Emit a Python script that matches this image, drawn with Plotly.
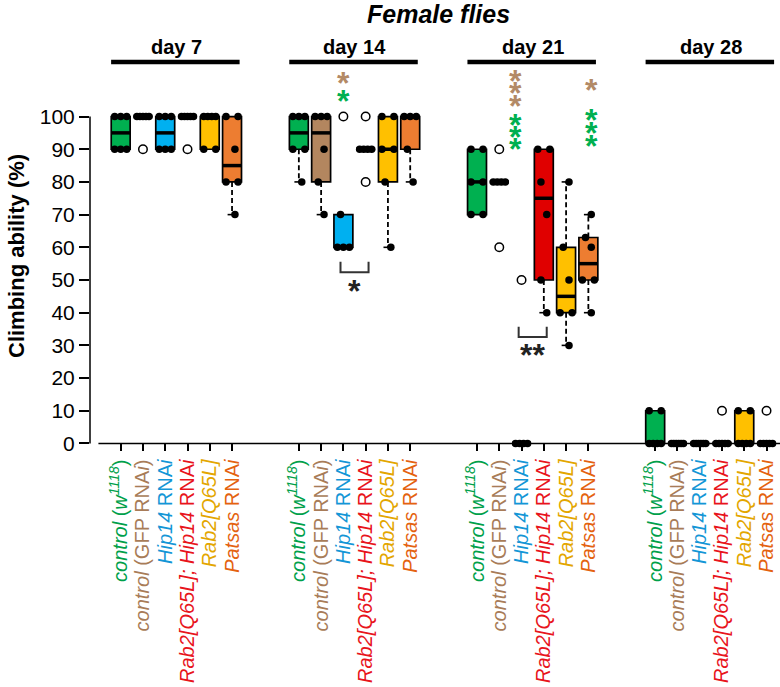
import numpy as np
import plotly.graph_objects as go

# ---------------- data ----------------
days = ["day 7", "day 14", "day 21", "day 28"]
genotype_labels = [
    "<i>control</i> (<i>w</i><sup><i>1118</i></sup>)",
    "<i>control</i> (GFP RNA<i>i</i>)",
    "<i>Hip14</i> RNA<i>i</i>",
    "<i>Rab2[Q65L]; Hip14</i> RNA<i>i</i>",
    "<i>Rab2[Q65L]</i>",
    "<i>Patsas</i> RNA<i>i</i>",
]
box_colors = ["#00B050", "#B3865F", "#00B0F0", "#E00000", "#FFC000", "#ED7D31"]
label_colors = ["#00A04A", "#A87C58", "#1496D6", "#E8141C", "#E3A600", "#E4620F"]

# climbing ability (%) per tube, one list per genotype (order as above)
day7 = [
    [90, 90, 90, 100, 100, 100],
    [90, 100, 100, 100, 100, 100],
    [90, 90, 90, 100, 100, 100],
    [90, 100, 100, 100, 100, 100],
    [90, 90, 100, 100, 100, 100],
    [70, 80, 80, 90, 100, 100],
]
day14 = [
    [80, 90, 90, 100, 100, 100],
    [70, 80, 90, 100, 100, 100],
    [60, 60, 60, 70, 100],
    [80, 90, 90, 90, 90, 100],
    [60, 80, 90, 90, 100, 100],
    [80, 90, 100, 100, 100],
]
day21 = [
    [70, 70, 80, 80, 90, 90],
    [60, 80, 80, 80, 80, 90],
    [0, 0, 0, 0, 50],
    [40, 50, 70, 80, 90, 90],
    [30, 40, 40, 50, 60, 80],
    [40, 50, 50, 60, 63, 70],
]
day28 = [
    [0, 0, 0, 0, 10, 10],
    [0, 0, 0, 0, 0, 0],
    [0, 0, 0, 0, 0, 0],
    [0, 0, 0, 0, 0, 10],
    [0, 0, 0, 0, 10, 10],
    [0, 0, 0, 0, 0, 10],
]
all_days = [day7, day14, day21, day28]

# significance marks vs controls: (x position, y level, colour)
STAR_BROWN = "#B38A66"
STAR_GREEN = "#00B050"
stars = [
    (11.0, 112.7, STAR_BROWN), (11.0, 107.3, STAR_GREEN),
    (18.75, 113.4, STAR_BROWN), (18.75, 109.6, STAR_BROWN), (18.75, 105.8, STAR_BROWN),
    (18.75, 99.9, STAR_GREEN), (18.75, 96.2, STAR_GREEN), (18.75, 92.5, STAR_GREEN),
    (22.15, 110.6, STAR_BROWN),
    (22.15, 101.5, STAR_GREEN), (22.15, 97.4, STAR_GREEN), (22.15, 93.3, STAR_GREEN),
]
# brackets between two boxes: (pos a, pos b, top y, bottom y, text, text y)
brackets = [
    (11, 12, 55.6, 52.4, "*", 49.0),
    (19, 20, 35.7, 32.6, "**", 29.6),
]

FONT = "Liberation Sans, Arial, sans-serif"
YMIN, YMAX = -2, 102
XMIN, XMAX = -0.378, 30.605
BOXW = 0.85
STAR_SIZE = 32


def stats(v):
    s = np.sort(np.asarray(v, dtype=float))
    n = len(s)
    half = (n + 1) // 2
    q1 = np.median(s[:half])
    q3 = np.median(s[n - half:])
    med = np.median(s)
    iqr = q3 - q1
    inl = s[(s >= q1 - 1.5 * iqr) & (s <= q3 + 1.5 * iqr)]
    return q1, med, q3, inl.min(), inl.max()


def jitter(vals):
    vals = list(vals)
    out = np.zeros(len(vals))
    uniq = sorted(set(vals))
    for i, u in enumerate(uniq):
        idx = [j for j, v in enumerate(vals) if v == u]
        if len(idx) == 1:
            out[idx[0]] = 0.13 if i % 2 == 0 else -0.13
        else:
            out[idx] = np.linspace(-0.27, 0.27, len(idx))
    return out


fig = go.Figure()

wx, wy, sx, sy, mx, my, dx, dy, ox, oy = ([] for _ in range(10))
tickvals, ticktext = [], []

for d, day in enumerate(all_days):
    for g, vals in enumerate(day):
        pos = d * 8 + g + 1
        tickvals.append(pos)
        ticktext.append('<span style="color:%s">%s</span>' % (label_colors[g], genotype_labels[g]))
        q1, med, q3, lo, hi = stats(vals)
        fig.add_trace(go.Box(
            x=[pos], q1=[q1], median=[med], q3=[q3], lowerfence=[q1], upperfence=[q3],
            width=BOXW, fillcolor=box_colors[g], line=dict(color="black", width=1.7),
            whiskerwidth=0, boxpoints=False, showlegend=False, hoverinfo="skip"))
        for end, base in ((hi, q3), (lo, q1)):
            if end != base:
                wx += [pos, pos, None]
                wy += [base, end, None]
                sx += [pos - 0.2, pos + 0.2, None]
                sy += [end, end, None]
        mx += [pos - BOXW / 2, pos + BOXW / 2, None]
        my += [med, med, None]
        arr = np.asarray(vals, dtype=float)
        inl = arr[(arr >= lo) & (arr <= hi)]
        out = arr[(arr < lo) | (arr > hi)]
        jit = jitter(inl)
        dx += list(pos + jit)
        dy += list(inl)
        ox += [pos] * len(out)
        oy += list(out)

fig.add_trace(go.Scatter(x=wx, y=wy, mode="lines", line=dict(color="black", width=1.8, dash="5px,3px"),
                         showlegend=False, hoverinfo="skip", cliponaxis=False))
fig.add_trace(go.Scatter(x=sx, y=sy, mode="lines", line=dict(color="black", width=1.6),
                         showlegend=False, hoverinfo="skip", cliponaxis=False))
fig.add_trace(go.Scatter(x=mx, y=my, mode="lines", line=dict(color="black", width=3.5),
                         showlegend=False, hoverinfo="skip", cliponaxis=False))
fig.add_trace(go.Scatter(x=dx, y=dy, mode="markers", marker=dict(color="black", size=7.5),
                         showlegend=False, hoverinfo="skip", cliponaxis=False))
fig.add_trace(go.Scatter(x=ox, y=oy, mode="markers",
                         marker=dict(color="white", size=8.5, line=dict(color="black", width=1.5)),
                         showlegend=False, hoverinfo="skip", cliponaxis=False))

for a, b, top, bot, txt, ty in brackets:
    fig.add_trace(go.Scatter(x=[a - 0.13, a - 0.13, b + 0.13, b + 0.13], y=[top, bot, bot, top],
                             mode="lines", line=dict(color="#333333", width=2),
                             showlegend=False, hoverinfo="skip", cliponaxis=False))


def py(v):  # data y -> paper y
    return (v - YMIN) / (YMAX - YMIN)


def ppx(px):  # pixel y from top -> paper y (plot area 110..450)
    return (450 - px) / 340.0


annotations = []
for x, yv, c in stars:
    annotations.append(dict(x=x, y=py(yv), xref="x", yref="paper", text="<b>*</b>", showarrow=False,
                            font=dict(family=FONT, size=STAR_SIZE, color=c), yanchor="middle", yshift=-8))
for a, b, top, bot, txt, ty in brackets:
    annotations.append(dict(x=(a + b) / 2, y=py(ty), xref="x", yref="paper", text="<b>%s</b>" % txt,
                            showarrow=False, font=dict(family=FONT, size=STAR_SIZE, color="#222222"),
                            yanchor="middle", yshift=-8))
for d, name in enumerate(days):
    annotations.append(dict(x=d * 8 + 3.5, y=ppx(47), xref="x", yref="paper", text="<b>%s</b>" % name,
                            showarrow=False, font=dict(family=FONT, size=20, color="black"),
                            yanchor="middle"))
annotations.append(dict(x=(438 - 90) / 690, y=ppx(14), xref="paper", yref="paper",
                        text="<b><i>Female flies</i></b>", showarrow=False,
                        font=dict(family=FONT, size=25, color="black"), yanchor="middle"))
annotations.append(dict(x=(16 - 90) / 690, y=ppx(256), xref="paper", yref="paper",
                        text="<b>Climbing ability (%)</b>", showarrow=False, textangle=-90,
                        font=dict(family=FONT, size=22, color="black"),
                        xanchor="center", yanchor="middle"))

shapes = []
shapes.append(dict(type="line", xref="paper", yref="paper", x0=0, x1=0, y0=py(0), y1=py(100),
                   line=dict(color="black", width=1.5)))
shapes.append(dict(type="line", xref="x", yref="paper", x0=0, x1=XMAX, y0=py(0), y1=py(0),
                   line=dict(color="black", width=1.5)))
for d in range(4):
    c = d * 8 + 3.5
    shapes.append(dict(type="line", xref="x", yref="paper", x0=c - 2.93, x1=c + 2.84,
                       y0=ppx(62), y1=ppx(62), line=dict(color="black", width=4.5)))

fig.update_layout(
    width=780, height=687,
    margin=dict(l=90, r=0, t=110, b=237),
    plot_bgcolor="white", paper_bgcolor="white",
    font=dict(family=FONT, color="black"),
    showlegend=False,
    annotations=annotations, shapes=shapes,
    xaxis=dict(range=[XMIN, XMAX], anchor="free", position=py(0),
               tickmode="array", tickvals=tickvals, ticktext=ticktext, tickangle=-90,
               ticks="outside", ticklen=7, tickwidth=1.5, tickcolor="black",
               tickfont=dict(family=FONT, size=20),
               showgrid=False, zeroline=False, showline=False),
    yaxis=dict(range=[YMIN, YMAX], tickmode="array", tickvals=list(range(0, 101, 10)),
               ticks="outside", ticklen=10, tickwidth=1.5, tickcolor="black",
               tickfont=dict(family=FONT, size=21, color="black"),
               showgrid=False, zeroline=False, showline=False),
)

fig.write_html("out.html")
